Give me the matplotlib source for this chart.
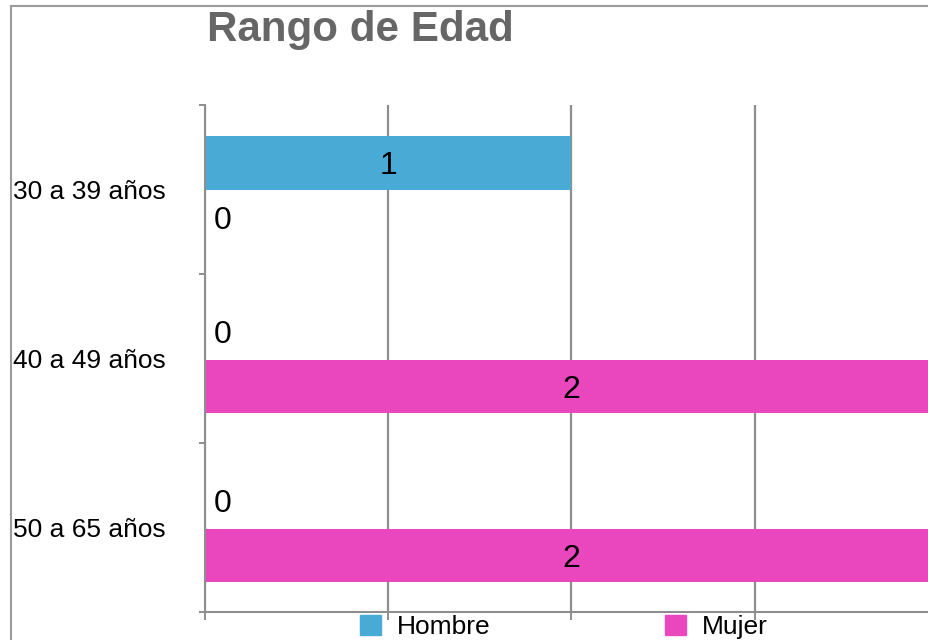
import numpy as np
import matplotlib.pyplot as plt
from matplotlib.patches import Rectangle, Patch

plt.rcParams["font.family"] = ["Liberation Sans", "DejaVu Sans"]

categories = ["30 a 39 años", "40 a 49 años", "50 a 65 años"]
hombre = [1, 0, 0]
mujer = [0, 2, 2]
series_names = ["Hombre", "Mujer"]
colors = ["#4aaad6", "#ea47bf"]
gray = "#8e8e8e"

fig = plt.figure(figsize=(9.29, 6.4), dpi=100)
ax = fig.add_axes([205 / 929, 1 - 612 / 640, 733 / 929, 507 / 640])

# outer frame running off the right and bottom edges
fig.patches.append(Rectangle((11 / 929, -0.1), 1.2, 1.1 - 6 / 640,
                             transform=fig.transFigure, fill=False,
                             edgecolor="#9a9a9a", linewidth=1.5, clip_on=False))

y = np.arange(len(categories))
h = 0.314
for vals, off, col in [(hombre, -h / 2, colors[0]), (mujer, h / 2 + 0.006, colors[1])]:
    ax.barh(y + off, vals, height=h, color=col, zorder=2)
    for yy, v in zip(y + off, vals):
        if v > 0:
            ax.text(v / 2, yy, str(v), ha="center", va="center_baseline", fontsize=23, zorder=4)
        else:
            ax.annotate(str(v), (0, yy), xytext=(6, 0), textcoords="offset points",
                        ha="left", va="center_baseline", fontsize=23, zorder=4)

ax.set_xlim(0, 2)
ax.set_ylim(2.5, -0.5)
ax.set_xticks([0, 0.5, 1, 1.5, 2])
ax.set_xticklabels([])
ax.tick_params(axis="x", length=5.8, width=1.4, color=gray, direction="out")
ax.xaxis.grid(True, color=gray, linewidth=1.6)
ax.set_axisbelow(True)

ax.set_yticks(y)
ax.set_yticklabels(categories, fontsize=19, ha="left")
ax.tick_params(axis="y", which="major", length=0, pad=138)
ax.set_yticks([-0.5, 0.5, 1.5, 2.5], minor=True)
ax.tick_params(axis="y", which="minor", length=4.3, width=1.4, color=gray)

for s in ["top", "right"]:
    ax.spines[s].set_visible(False)
for s in ["left", "bottom"]:
    ax.spines[s].set_color(gray)
    ax.spines[s].set_linewidth(1.5)
    ax.spines[s].set_zorder(3)

fig.text(207 / 929, 1 - 30 / 640, "Rango de Edad", fontsize=30.3, fontweight="bold",
         color="#666666", ha="left", va="center")

handles = [Patch(facecolor=c, edgecolor=c) for c in colors]
fig.legend(handles, series_names, loc="center", bbox_to_anchor=(564 / 929, 1 - 627 / 640),
           ncol=2, frameon=False, fontsize=19, handlelength=0.8, handleheight=0.8,
           handletextpad=0.6, columnspacing=6.6, borderaxespad=0)

fig.savefig("out.png", dpi=100)
